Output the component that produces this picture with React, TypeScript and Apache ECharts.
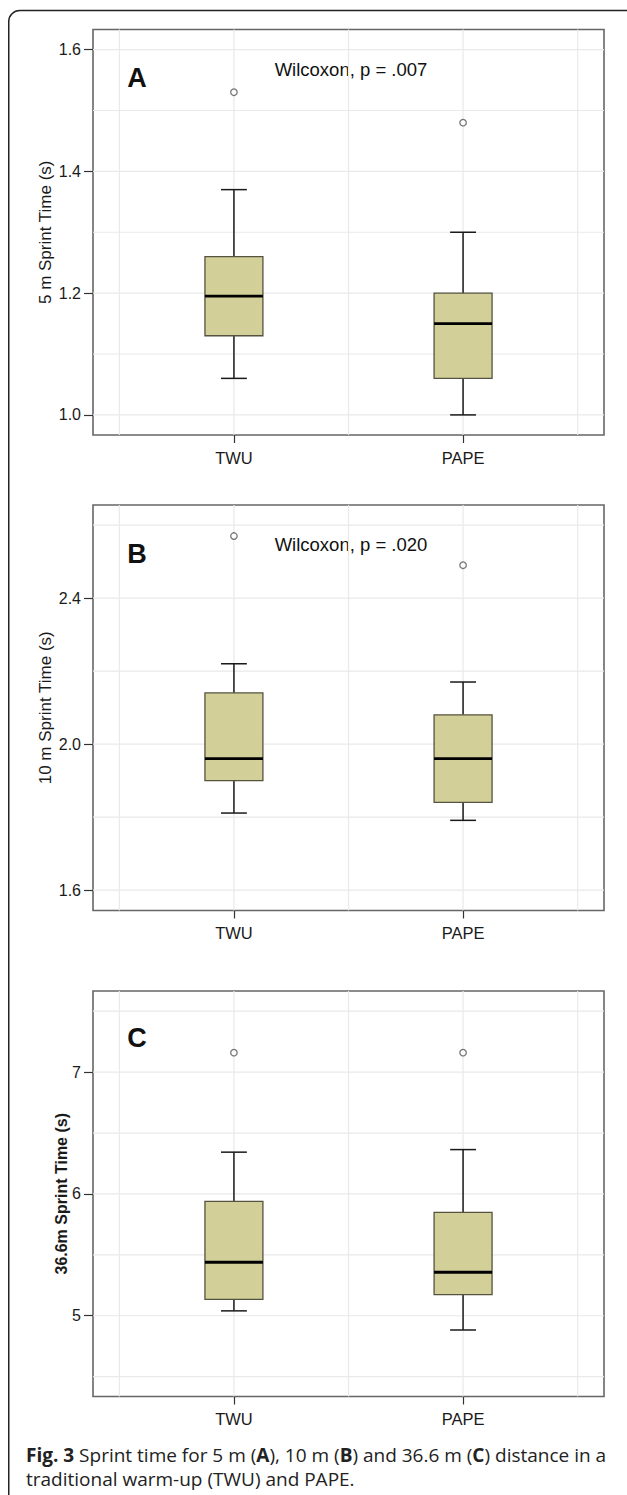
import React, { useEffect, useRef } from "react";
import * as echarts from "echarts";

// ---- Data ----
const categories = ["TWU", "PAPE"];

// [lower whisker, Q1, median, Q3, upper whisker]
const sprint5mBox = [
  [1.06, 1.13, 1.195, 1.26, 1.37],
  [1.0, 1.06, 1.15, 1.2, 1.3],
];
const sprint5mOutliers = [1.53, 1.48];
const sprint5mTicks = [1.0, 1.2, 1.4, 1.6];
const sprint5mGrid = [1.0, 1.1, 1.2, 1.3, 1.4, 1.5, 1.6];

const sprint10mBox = [
  [1.811, 1.9, 1.96, 2.14, 2.22],
  [1.791, 1.84, 1.96, 2.08, 2.17],
];
const sprint10mOutliers = [2.57, 2.49];
const sprint10mTicks = [1.6, 2.0, 2.4];
const sprint10mGrid = [1.6, 1.8, 2.0, 2.2, 2.4, 2.6];

const sprint36Box = [
  [5.04, 5.134, 5.439, 5.939, 6.343],
  [4.883, 5.174, 5.357, 5.849, 6.364],
];
const sprint36Outliers = [7.16, 7.16];
const sprint36Ticks = [5, 6, 7];
const sprint36Grid = [4.5, 5, 5.5, 6, 6.5, 7, 7.5];

const xGridLines = [0.5, 1, 1.5, 2, 2.5];

const panelLetters = ["A", "B", "C"];
const statTexts = ["Wilcoxon, p = .007", "Wilcoxon, p = .020", ""];
const yTitles = ["5 m Sprint Time (s)", "10 m Sprint Time (s)", "36.6m Sprint Time (s)"];

const FONT = "'Liberation Sans', Arial, sans-serif";
const CAP_FONT = "'Open Sans', sans-serif";

export default function App() {
  const ref = useRef<HTMLDivElement>(null);

  useEffect(() => {
    if (!ref.current) return;
    const chart = echarts.init(ref.current, undefined, { renderer: "svg" });

    const panels = [
      { box: sprint5mBox, out: sprint5mOutliers, ticks: sprint5mTicks, grid: sprint5mGrid, min: 0.967, max: 1.633, top: 29.5, fmt: (v: number) => v.toFixed(1), nameGap: 39.5, bold: false },
      { box: sprint10mBox, out: sprint10mOutliers, ticks: sprint10mTicks, grid: sprint10mGrid, min: 1.544, max: 2.655, top: 505, fmt: (v: number) => v.toFixed(1), nameGap: 39.5, bold: false },
      { box: sprint36Box, out: sprint36Outliers, ticks: sprint36Ticks, grid: sprint36Grid, min: 4.337, max: 7.666, top: 991, fmt: (v: number) => String(Math.round(v)), nameGap: 24, bold: true },
    ];
    const gridH = 405.5;

    const grids: any[] = [];
    const xAxes: any[] = [];
    const yAxes: any[] = [];
    const series: any[] = [];
    const graphics: any[] = [];

    panels.forEach((p, i) => {
      grids.push({
        left: 93,
        top: p.top,
        width: 511,
        height: gridH,
        show: true,
        borderColor: "#666666",
        borderWidth: 1.6,
        backgroundColor: "#ffffff",
      });
      xAxes.push({
        type: "value",
        gridIndex: i,
        min: 0.385,
        max: 2.615,
        axisLine: { show: false },
        splitLine: { show: false },
        axisTick: { show: true, customValues: [1, 2], length: 8, lineStyle: { color: "#333", width: 1.2 } },
        axisLabel: {
          show: true,
          customValues: [1, 2],
          formatter: (v: number) => categories[Math.round(v) - 1] ?? "",
          margin: 14,
          fontSize: 16.5,
          fontFamily: FONT,
          color: "#1a1a1a",
        },
      });
      yAxes.push({
        type: "value",
        gridIndex: i,
        min: p.min,
        max: p.max,
        name: yTitles[i],
        nameLocation: "middle",
        nameRotate: 90,
        nameGap: p.nameGap,
        nameMoveOverlap: false,
        nameTextStyle: { fontSize: p.bold ? 16 : 17, fontWeight: p.bold ? "bold" : "normal", fontFamily: FONT, color: "#1a1a1a" },
        axisLine: { show: false },
        splitLine: { show: false },
        axisTick: { show: true, customValues: p.ticks, length: 9, lineStyle: { color: "#333", width: 1.2 } },
        axisLabel: {
          show: true,
          customValues: p.ticks,
          formatter: (v: number) => p.fmt(v),
          margin: 12,
          fontSize: 16,
          fontFamily: FONT,
          color: "#1a1a1a",
        },
      });

      // horizontal grid lines
      series.push({
        type: "custom",
        xAxisIndex: i,
        yAxisIndex: i,
        silent: true,
        z: 1,
        data: p.grid.map((v) => [v]),
        renderItem: (params: any, api: any) => {
          const cs = params.coordSys;
          const pt = api.coord([1, api.value(0)]);
          return {
            type: "line",
            shape: { x1: cs.x, y1: pt[1], x2: cs.x + cs.width, y2: pt[1] },
            style: { stroke: "#e9e9e9", lineWidth: 1.2 },
          };
        },
      });
      // vertical grid lines
      series.push({
        type: "custom",
        xAxisIndex: i,
        yAxisIndex: i,
        silent: true,
        z: 1,
        data: xGridLines.map((v) => [v]),
        renderItem: (params: any, api: any) => {
          const cs = params.coordSys;
          const pt = api.coord([api.value(0), p.min]);
          return {
            type: "line",
            shape: { x1: pt[0], y1: cs.y, x2: pt[0], y2: cs.y + cs.height },
            style: { stroke: "#e9e9e9", lineWidth: 1.2 },
          };
        },
      });
      // boxes
      series.push({
        type: "custom",
        xAxisIndex: i,
        yAxisIndex: i,
        silent: true,
        z: 3,
        data: p.box.map((b, k) => [k + 1, ...b]),
        renderItem: (params: any, api: any) => {
          const x = api.value(0);
          const lo = api.coord([x, api.value(1)]);
          const q1 = api.coord([x, api.value(2)]);
          const md = api.coord([x, api.value(3)]);
          const q3 = api.coord([x, api.value(4)]);
          const hi = api.coord([x, api.value(5)]);
          const hb = api.size([0.253, 0])[0] / 2;
          const hc = api.size([0.113, 0])[0] / 2;
          const cx = lo[0];
          const wStyle = { stroke: "#1a1a1a", lineWidth: 1.5 };
          return {
            type: "group",
            children: [
              { type: "line", shape: { x1: cx, y1: hi[1], x2: cx, y2: q3[1] }, style: wStyle },
              { type: "line", shape: { x1: cx, y1: q1[1], x2: cx, y2: lo[1] }, style: wStyle },
              { type: "line", shape: { x1: cx - hc, y1: hi[1], x2: cx + hc, y2: hi[1] }, style: wStyle },
              { type: "line", shape: { x1: cx - hc, y1: lo[1], x2: cx + hc, y2: lo[1] }, style: wStyle },
              {
                type: "rect",
                shape: { x: cx - hb, y: q3[1], width: hb * 2, height: q1[1] - q3[1] },
                style: { fill: "#d3cf98", stroke: "#55533f", lineWidth: 1.3 },
              },
              { type: "line", shape: { x1: cx - hb, y1: md[1], x2: cx + hb, y2: md[1] }, style: { stroke: "#000", lineWidth: 2.8 } },
            ],
          };
        },
      });
      // outliers
      series.push({
        type: "scatter",
        xAxisIndex: i,
        yAxisIndex: i,
        silent: true,
        z: 4,
        symbol: "circle",
        symbolSize: 6.5,
        itemStyle: { color: "#ffffff", borderColor: "#555555", borderWidth: 1.3 },
        data: p.out.map((v, k) => [k + 1, v]),
      });

      // panel letter
      graphics.push({
        type: "text",
        x: 137,
        y: p.top + (i === 2 ? 46.5 : 48.5),
        style: {
          text: panelLetters[i],
          fontSize: 27,
          fontWeight: "bold",
          fontFamily: FONT,
          fill: "#111",
          align: "center",
          verticalAlign: "middle",
        },
      });
      if (statTexts[i]) {
        graphics.push({
          type: "text",
          x: 351,
          y: p.top + (i === 0 ? 40 : 39),
          style: {
            text: statTexts[i],
            fontSize: 18.5,
            fontFamily: FONT,
            fill: "#111",
            align: "center",
            verticalAlign: "middle",
          },
        });
      }
    });

    // outer frame
    graphics.push({
      type: "rect",
      shape: { x: 8.75, y: 10.5, width: 700, height: 1560, r: 11 },
      style: { fill: "none", stroke: "#222", lineWidth: 1.5 },
      z: 10,
    });

    const capSize = 19;
    const capRich = {
      b: { fontWeight: "bold", fontFamily: CAP_FONT, fontSize: capSize, fill: "#222", lineHeight: 21 },
    };
    graphics.push({
      type: "text",
      x: 26,
      y: 1455,
      style: {
        text: "{b|Fig. 3} Sprint time for 5 m ({b|A}), 10 m ({b|B}) and 36.6 m ({b|C}) distance in a",
        rich: capRich,
        fontSize: capSize,
        lineHeight: 21,
        fontFamily: CAP_FONT,
        fill: "#222",
        verticalAlign: "middle",
      },
    });
    graphics.push({
      type: "text",
      x: 26,
      y: 1479,
      style: {
        text: "traditional warm-up (TWU) and PAPE.",
        fontSize: capSize,
        lineHeight: 21,
        fontFamily: CAP_FONT,
        fill: "#222",
        verticalAlign: "middle",
      },
    });

    chart.setOption({
      animation: false,
      backgroundColor: "#ffffff",
      grid: grids,
      xAxis: xAxes,
      yAxis: yAxes,
      series,
      graphic: graphics,
    });

    return () => chart.dispose();
  }, []);

  return <div ref={ref} style={{ position: "absolute", left: 0, top: 0, width: 627, height: 1495 }} />;
}
